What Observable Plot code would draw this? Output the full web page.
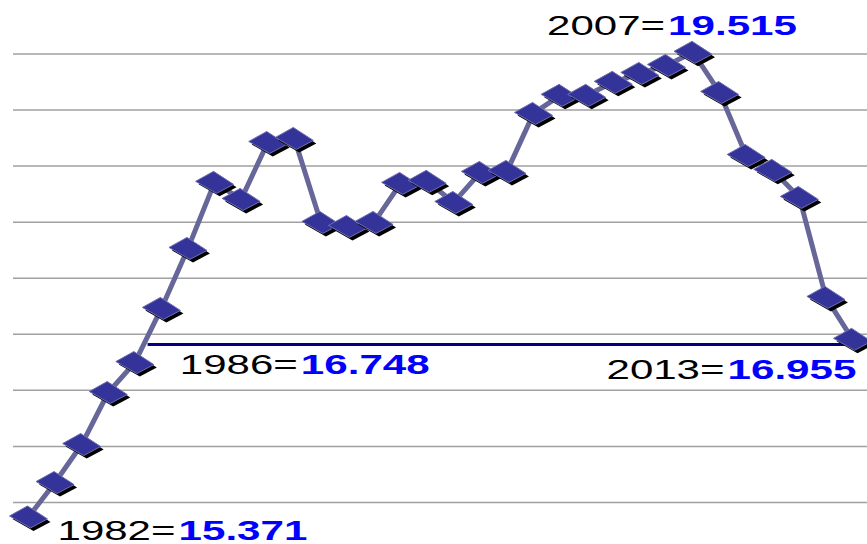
<!DOCTYPE html>
<html>
<head>
<meta charset="utf-8">
<script src="https://cdn.jsdelivr.net/npm/d3@7"></script>
<script src="https://cdn.jsdelivr.net/npm/@observablehq/plot@0.6"></script>
<style>
  html, body { margin: 0; padding: 0; background: #fff; }
  #chart { width: 867px; height: 544px; overflow: hidden; }
</style>
</head>
<body>
<div id="chart"></div>
<script>
// ---- data ----
const years = [1982, 1983, 1984, 1985, 1986, 1987, 1988, 1989, 1990, 1991, 1992,
  1993, 1994, 1995, 1996, 1997, 1998, 1999, 2000, 2001, 2002, 2003, 2004, 2005,
  2006, 2007, 2008, 2009, 2010, 2011, 2012, 2013];
const values = [15.371, 15.678, 16.017, 16.481, 16.748, 17.231, 17.766, 18.355,
  18.203, 18.711, 18.747, 17.998, 17.962, 17.998, 18.346, 18.364, 18.176, 18.444,
  18.453, 18.970, 19.131, 19.131, 19.247, 19.327, 19.398, 19.515, 19.157, 18.595,
  18.462, 18.221, 17.329, 16.955];
const gridValues = [15.5, 16, 16.5, 17, 17.5, 18, 18.5, 19, 19.5];
const annoYears = [2007, 1986, 2013, 1982];
const annoPrefix = ["2007=", "1986=", "2013=", "1982="];
const annoValue = ["19.515", "16.748", "16.955", "15.371"];
const annoDx = [-28, 163, -128, 147];
const annoDy = [-17, 11, 40, 23];
const refLineFrom = [1986.5];
const refLineTo = [2013.3];
const refLineValue = [16.91];

// ---- build ----
const data = years.map((year, i) => ({year, value: values[i]}));
const annos = annoYears.map((year, i) => ({
  year, value: values[years.indexOf(year)], prefix: annoPrefix[i], val: annoValue[i],
  dx: annoDx[i], dy: annoDy[i]
}));
const refLine = refLineValue.map((v, i) => ({x1: refLineFrom[i], x2: refLineTo[i], y: v}));

const diamond = {
  draw(ctx) {
    ctx.moveTo(-1, -11);
    ctx.lineTo(19, 2);
    ctx.lineTo(2, 11);
    ctx.lineTo(-19, -1);
    ctx.closePath();
  }
};

const pointMarks = data.flatMap(d => [
  Plot.dot([d], {x: "year", y: "value", symbol: diamond, fill: "#000", stroke: "none", dx: 3, dy: 3}),
  Plot.dot([d], {x: "year", y: "value", symbol: diamond, fill: "#333399", stroke: "#6f6fb0", strokeWidth: 1})
]);

const FONT = "Liberation Sans";
const annoMarks = annos.flatMap(a => [
  Plot.text([a], {x: "year", y: "value", text: "prefix", dx: a.dx, dy: a.dy,
    textAnchor: "end", lineAnchor: "bottom", fontSize: 28, fontFamily: FONT, fill: "#000"}),
  Plot.text([a], {x: "year", y: "value", text: "val", dx: a.dx + 3, dy: a.dy,
    textAnchor: "start", lineAnchor: "bottom", fontSize: 28, fontFamily: FONT, fontWeight: "bold", fill: "#0000ff"})
]);

const chart = Plot.plot({
  width: 867,
  height: 544,
  marginLeft: 13,
  marginRight: 0,
  marginTop: 0,
  marginBottom: 0,
  x: {domain: [1981.436, 2013.564], axis: null},
  y: {domain: [15.1253, 19.977], axis: null},
  style: {background: "white", fontFamily: FONT, overflow: "visible"},
  marks: [
    Plot.ruleY(gridValues, {stroke: "#a0a0a0", strokeWidth: 1.5, strokeOpacity: 1}),
    Plot.line(data, {x: "year", y: "value", stroke: "#666699", strokeWidth: 5, curve: "linear"}),
    Plot.ruleY(refLine, {x1: "x1", x2: "x2", y: "y", stroke: "#000080", strokeWidth: 3}),
    ...pointMarks,
    ...annoMarks
  ]
});

document.getElementById("chart").appendChild(chart);

// stretch annotation glyphs horizontally to match the wide lettering
chart.querySelectorAll("text").forEach(t => {
  const content = t.textContent.trim();
  let target = null;
  if (annoPrefix.includes(content)) target = 118;
  else if (annoValue.includes(content)) target = 129;
  if (target === null) return;
  t.setAttribute("font-family", FONT);
  t.style.fontFamily = FONT;
  const w = t.getBBox().width;
  if (!w) return;
  const s = target / w;
  let tr = t.getAttribute("transform") || "";
  const x = t.getAttribute("x"), y = t.getAttribute("y");
  if (x !== null || y !== null) {
    tr += ` translate(${+x || 0},${+y || 0})`;
    t.removeAttribute("x");
    t.removeAttribute("y");
  }
  t.setAttribute("transform", `${tr} scale(${s},1)`);
});
</script>
</body>
</html>
